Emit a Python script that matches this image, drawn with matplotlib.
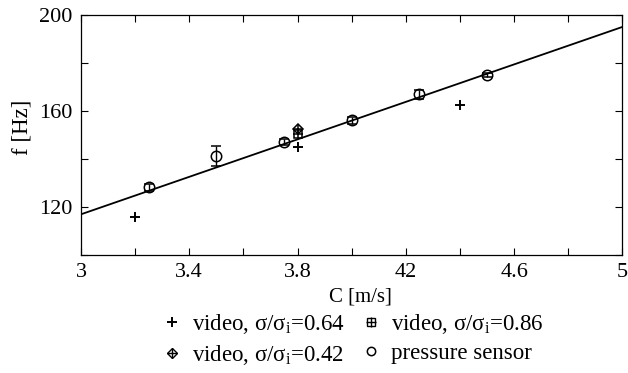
import numpy as np
import matplotlib
matplotlib.use("Agg")
import matplotlib.pyplot as plt
from matplotlib.lines import Line2D
from matplotlib.legend_handler import HandlerTuple

plt.rcParams['font.family'] = ['Liberation Serif', 'DejaVu Serif']
plt.rcParams['mathtext.fontset'] = 'custom'
plt.rcParams['mathtext.rm'] = 'Liberation Serif'
plt.rcParams['mathtext.it'] = 'Liberation Serif:italic'

# Pressure sensor measurements (speed C, frequency f, half error bar)
press_c = [3.25, 3.5, 3.75, 4.0, 4.25, 4.5]
press_f = [128.2, 141.2, 147.2, 156.2, 167.0, 175.0]
press_err = [1.5, 4.2, 1.2, 1.5, 1.8, 1.0]

# Video measurements for three stress ratios
vid064_c = [3.2, 3.8, 4.4]
vid064_f = [116.0, 145.0, 162.5]
vid086_c = [3.8]
vid086_f = [150.4]
vid042_c = [3.8]
vid042_f = [152.6]

# Linear fit f = k * C
fit_slope = 39.0
fit_c = [3.0, 5.0]

xtick_vals = [3.0, 3.4, 3.8, 4.2, 4.6, 5.0]
xtick_labels = ['3', '3.4', '3.8', '42', '4.6', '5']
ytick_vals = [120, 160, 200]
ytick_labels = ['120', '160', '200']

fig = plt.figure(figsize=(6.28, 3.73), dpi=100)
ax = fig.add_axes([0.129, 0.316, 0.862, 0.644])

fit_f = [fit_slope * c for c in fit_c]
ax.plot(fit_c, fit_f, color='black', lw=1.3, zorder=2)

ax.errorbar(press_c, press_f, yerr=press_err, fmt='o', mfc='none', mec='black',
            ecolor='black', ms=7.5, mew=1.1, elinewidth=1.0, capsize=3.5,
            capthick=1.0, zorder=3)

ms = 6.5
ax.plot(vid064_c, vid064_f, '+', color='black', ms=ms, mew=1.4, zorder=4)
ax.plot(vid086_c, vid086_f, 's', mfc='none', mec='black', ms=5.5, mew=1.1, zorder=4)
ax.plot(vid086_c, vid086_f, '+', color='black', ms=6.5, mew=1.1, zorder=4)
ax.plot(vid042_c, vid042_f, 'D', mfc='none', mec='black', ms=5.5, mew=1.1, zorder=4)
ax.plot(vid042_c, vid042_f, '+', color='black', ms=6.5, mew=1.1, zorder=4)

ax.set_xlim(3, 5)
ax.set_ylim(100, 200)
ax.set_xticks(np.arange(3.0, 5.01, 0.2), minor=True)
ax.set_xticks(xtick_vals)
ax.set_xticklabels(xtick_labels)
ax.set_yticks(np.arange(100, 201, 20), minor=True)
ax.set_yticks(ytick_vals)
ax.set_yticklabels(ytick_labels)
ax.tick_params(which='both', direction='in', top=True, right=True, length=5,
               width=0.8, labelsize=16, pad=6)
ax.tick_params(which='minor', length=5)
for s in ax.spines.values():
    s.set_linewidth(0.9)

ax.set_xlabel('C [m/s]', fontsize=15)
ax.xaxis.set_label_coords(0.516, -0.133)
ax.set_ylabel('f [Hz]', fontsize=16.5)
ax.yaxis.set_label_coords(-0.09, 0.531)

h064 = Line2D([], [], ls='none', marker='+', color='black', ms=7, mew=1.4)
h086 = (Line2D([], [], ls='none', marker='s', mfc='none', mec='black', ms=5.5, mew=1.0),
        Line2D([], [], ls='none', marker='+', color='black', ms=6.5, mew=1.0))
h042 = (Line2D([], [], ls='none', marker='D', mfc='none', mec='black', ms=5.5, mew=1.0),
        Line2D([], [], ls='none', marker='+', color='black', ms=6.5, mew=1.0))
hp = Line2D([], [], ls='none', marker='o', mfc='none', mec='black', ms=6, mew=1.1)

labels = [r'video, σ/σ$_\mathrm{i}$=0.64', r'video, σ/σ$_\mathrm{i}$=0.42',
          r'video, σ/σ$_\mathrm{i}$=0.86', 'pressure sensor']
fig.legend([h064, h042, h086, hp], labels, ncol=2, frameon=False,
           handler_map={tuple: HandlerTuple(ndivide=1, pad=0)},
           loc='upper left', bbox_to_anchor=(151 / 628, 0.189), fontsize=16.5,
           handlelength=1.0, handletextpad=0.4, columnspacing=0.6,
           labelspacing=0.33, borderpad=0.4, borderaxespad=0)

fig.savefig('out.png', dpi=100)
